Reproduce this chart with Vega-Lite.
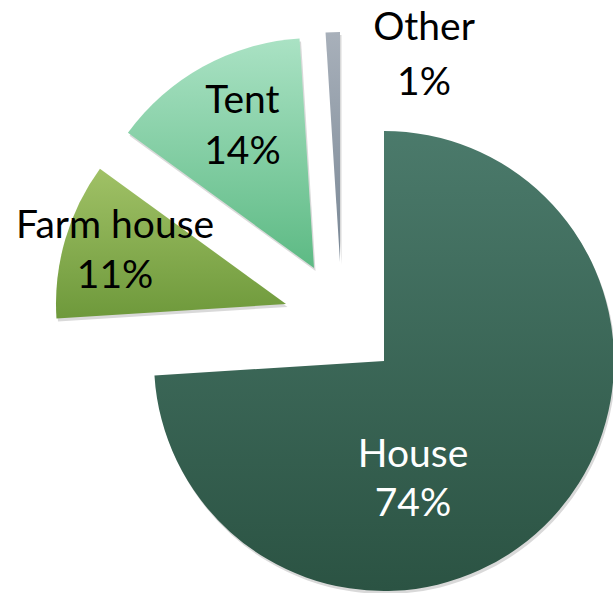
{
  "$schema": "https://vega.github.io/schema/vega-lite/v6.json",
  "width": 613,
  "height": 593,
  "autosize": "none",
  "padding": 0,
  "background": "white",
  "config": {"view": {"stroke": null}},
  "data": {
    "values": [
      {"id": 1, "cat": "House", "pct": 74},
      {"id": 2, "cat": "Farm house", "pct": 11},
      {"id": 3, "cat": "Tent", "pct": 14},
      {"id": 4, "cat": "Other", "pct": 1}
    ]
  },
  "transform": [
    {"calculate": "[datum.cat, datum.pct + '%']", "as": "label"}
  ],
  "encoding": {
    "theta": {"field": "pct", "type": "quantitative", "stack": true, "scale": {"domain": [0, 100]}},
    "order": {"field": "id", "type": "quantitative"}
  },
  "layer": [
    {
      "mark": {"type": "arc", "radius": 230, "xOffset": 79, "yOffset": 67.5, "color": "#000000"},
      "encoding": {"opacity": {"condition": {"test": "datum.cat === 'House'", "value": 0.15}, "value": 0}}
    },
    {
      "mark": {"type": "arc", "radius": 230, "xOffset": -19, "yOffset": 10.5, "color": "#000000"},
      "encoding": {"opacity": {"condition": {"test": "datum.cat === 'Farm house'", "value": 0.15}, "value": 0}}
    },
    {
      "mark": {"type": "arc", "radius": 230, "xOffset": 9, "yOffset": -25.5, "color": "#000000"},
      "encoding": {"opacity": {"condition": {"test": "datum.cat === 'Tent'", "value": 0.15}, "value": 0}}
    },
    {
      "mark": {"type": "arc", "radius": 230, "xOffset": 35, "yOffset": -31.5, "color": "#000000"},
      "encoding": {"opacity": {"condition": {"test": "datum.cat === 'Other'", "value": 0.15}, "value": 0}}
    },
    {
      "mark": {"type": "arc", "radius": 230, "xOffset": 77.5, "yOffset": 64.5,
        "color": {"gradient": "linear", "x1": 0, "y1": 0, "x2": 0, "y2": 1, "stops": [{"offset": 0, "color": "#4b7a6b"}, {"offset": 1, "color": "#2b5343"}]}},
      "encoding": {"opacity": {"condition": {"test": "datum.cat === 'House'", "value": 1}, "value": 0}}
    },
    {
      "mark": {"type": "arc", "radius": 230, "xOffset": -20.5, "yOffset": 7.5,
        "color": {"gradient": "linear", "x1": 0, "y1": 0, "x2": 0, "y2": 1, "stops": [{"offset": 0, "color": "#a0c166"}, {"offset": 1, "color": "#6e993b"}]}},
      "encoding": {"opacity": {"condition": {"test": "datum.cat === 'Farm house'", "value": 1}, "value": 0}}
    },
    {
      "mark": {"type": "arc", "radius": 230, "xOffset": 7.5, "yOffset": -28.5,
        "color": {"gradient": "linear", "x1": 0, "y1": 0, "x2": 0, "y2": 1, "stops": [{"offset": 0, "color": "#aae2c4"}, {"offset": 1, "color": "#5dba84"}]}},
      "encoding": {"opacity": {"condition": {"test": "datum.cat === 'Tent'", "value": 1}, "value": 0}}
    },
    {
      "mark": {"type": "arc", "radius": 230, "xOffset": 33.5, "yOffset": -34.5,
        "color": {"gradient": "linear", "x1": 0, "y1": 0, "x2": 0, "y2": 1, "stops": [{"offset": 0, "color": "#a8b0ba"}, {"offset": 1, "color": "#798795"}]}},
      "encoding": {"opacity": {"condition": {"test": "datum.cat === 'Other'", "value": 1}, "value": 0}}
    },
    {
      "mark": {"type": "text", "radius": 120, "xOffset": 77.5, "yOffset": 64.5, "dx": -58.5, "dy": 11.8,
        "font": "Lato", "fontSize": 39, "lineHeight": 49, "align": "center", "baseline": "middle", "color": "white"},
      "encoding": {"text": {"field": "label"}, "opacity": {"condition": {"test": "datum.cat === 'House'", "value": 1}, "value": 0}}
    },
    {
      "mark": {"type": "text", "radius": 179, "xOffset": -20.5, "yOffset": 7.5, "dx": 1, "dy": -27.6,
        "font": "Lato", "fontSize": 39, "lineHeight": 50, "align": "center", "baseline": "middle", "color": "black"},
      "encoding": {"text": {"field": "label"}, "opacity": {"condition": {"test": "datum.cat === 'Farm house'", "value": 1}, "value": 0}}
    },
    {
      "mark": {"type": "text", "radius": 159, "xOffset": 7.5, "yOffset": -28.5, "dx": 5, "dy": -27.5,
        "font": "Lato", "fontSize": 39, "lineHeight": 51, "align": "center", "baseline": "middle", "color": "black"},
      "encoding": {"text": {"field": "label"}, "opacity": {"condition": {"test": "datum.cat === 'Tent'", "value": 1}, "value": 0}}
    },
    {
      "mark": {"type": "text", "radius": 207, "xOffset": 33.5, "yOffset": -34.5, "dx": 90.5, "dy": -27.5,
        "font": "Lato", "fontSize": 39, "lineHeight": 55, "align": "center", "baseline": "middle", "color": "black"},
      "encoding": {"text": {"field": "label"}, "opacity": {"condition": {"test": "datum.cat === 'Other'", "value": 1}, "value": 0}}
    }
  ]
}
